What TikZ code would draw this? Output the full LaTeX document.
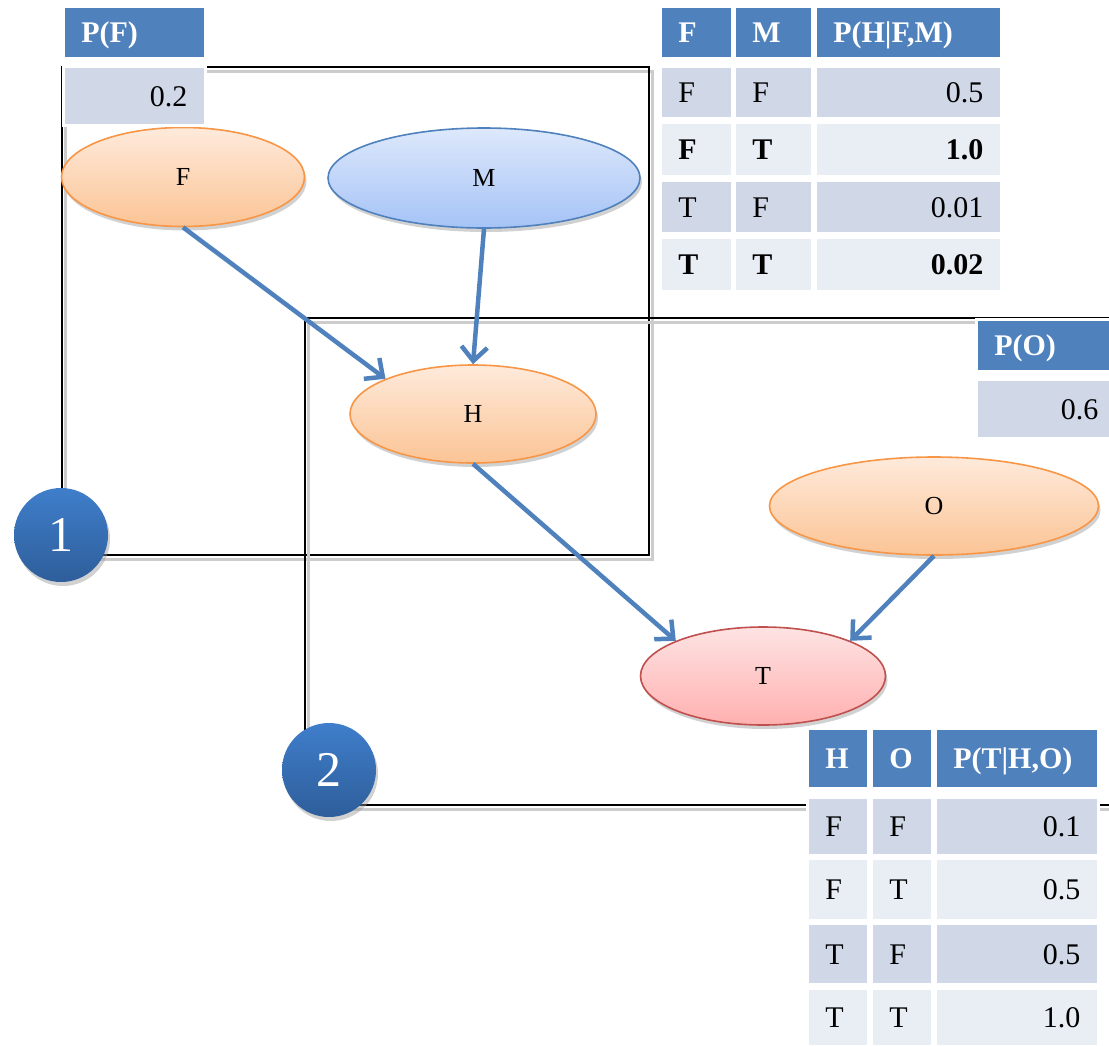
\documentclass[tikz,border=0pt]{standalone}
\usepackage{fontspec}
\setmainfont{Liberation Serif}
\usetikzlibrary{arrows.meta,shapes.geometric,shadows}
\definecolor{hdrblue}{HTML}{4F81BD}
\definecolor{rowdark}{HTML}{D0D8E8}
\definecolor{rowlight}{HTML}{E9EDF4}
\definecolor{orgline}{HTML}{F79646}
\definecolor{orgtop}{HTML}{FEEADB}
\definecolor{orgbot}{HTML}{FBC495}
\definecolor{blutop}{HTML}{DDE8FB}
\definecolor{blubot}{HTML}{A5C3F6}
\definecolor{redline}{HTML}{C0504D}
\definecolor{redtop}{HTML}{FEE3E3}
\definecolor{redbot}{HTML}{FFB0B0}
\definecolor{numtop}{HTML}{3F7ECB}
\definecolor{numbot}{HTML}{2E5E9A}
\begin{document}
\begin{tikzpicture}[x=1pt,y=-1pt,
	var/.style={ellipse,draw,line width=1.6pt,inner sep=0pt,font=\fontsize{26}{30}\selectfont,
		drop shadow={shadow xshift=2pt,shadow yshift=-4pt,fill=black!40,opacity=.45}},
	orgvar/.style={var,draw=orgline,top color=orgtop,bottom color=orgbot},
	bluvar/.style={var,draw=hdrblue,top color=blutop,bottom color=blubot},
	redvar/.style={var,draw=redline,top color=redtop,bottom color=redbot},
	edge/.style={draw=hdrblue,line width=4.5pt,-{Straight Barb[length=14pt,width=26pt]}},
	frame/.style={draw=black,line width=1.8pt},
	frameshadow/.style={draw=black!20,line width=3pt},
	cell/.style={anchor=north west,inner xsep=18pt,inner ysep=0pt,text height=21pt,text depth=0pt,
		draw=white,line width=2.5pt,font=\fontsize{30}{36}\selectfont},
	hdr/.style={cell,fill=hdrblue,text=white,align=left,font=\fontsize{30}{36}\selectfont\bfseries},
	lcell/.style={cell,align=left},
	rcell/.style={cell,align=right},
	badge/.style={circle,minimum size=94pt,inner sep=0pt,top color=numtop,bottom color=numbot,
		text=white,font=\fontsize{50}{56}\selectfont,
		drop shadow={shadow xshift=2pt,shadow yshift=-4pt,fill=black!40,opacity=.45}}]
	\useasboundingbox (0,0) rectangle (1109,1045);
	% frames 1 and 2
	\draw[frameshadow] (65,71) rectangle (652,559);
	\draw[frame] (62,67) rectangle (649,555);
	\draw[frameshadow] (1120,322) -| (308,809) -- (1120,809);
	\draw[frame] (1120,318) -| (305,805) -- (1120,805);
	% variables
	\node[orgvar,minimum width=243pt,minimum height=99pt] (F) at (183,177) {F};
	\node[bluvar,minimum width=312pt,minimum height=100pt] (M) at (484,178) {M};
	\node[orgvar,minimum width=246pt,minimum height=98pt] (H) at (473,414) {H};
	\node[orgvar,minimum width=329pt,minimum height=98pt] (O) at (934,506) {O};
	\node[redvar,minimum width=245pt,minimum height=98pt] (T) at (763,676) {T};
	% arcs
	\draw[edge] (F.south) -- (H.north west);
	\draw[edge] (M.south) -- (H.north);
	\draw[edge] (H.south) -- (T.north west);
	\draw[edge] (O.south) -- (T.north east);
	% table P(F)
	\node[hdr,text width=106pt,minimum height=52pt] (pf-h) at (62,5) {P(F)};
	\node[rcell,fill=rowdark,text width=106pt,minimum height=59pt] (pf-v) at (62,65) {0.2};
	% table P(O)
	\node[hdr,text width=104pt,minimum height=52pt] (po-h) at (975,318) {P(O)};
	\node[rcell,fill=rowdark,text width=104pt,minimum height=59pt] (po-v) at (975,378) {0.6};
	% table P(H|F,M)
	\node[hdr,text width=36pt,minimum height=52pt] (hfm-h1) at (659,5) {F};
	\node[hdr,text width=42pt,minimum height=52pt] (hfm-h2) at (733,5) {M};
	\node[hdr,text width=150pt,minimum height=52pt] (hfm-h3) at (814,5) {P(H|F,M)};
	\foreach \a/\b/\p/\y/\h/\tint [count=\i] in {F/F/0.5/65/52/rowdark,
		\textbf{F}/\textbf{T}/\textbf{1.0}/121/54/rowlight,
		T/F/0.01/179/53/rowdark,
		\textbf{T}/\textbf{T}/\textbf{0.02}/236/54/rowlight}{
		\node[lcell,fill=\tint,text width=36pt,minimum height=\h pt] (hfm-\i a) at (659,\y) {\a};
		\node[lcell,fill=\tint,text width=42pt,minimum height=\h pt] (hfm-\i b) at (733,\y) {\b};
		\node[rcell,fill=\tint,text width=150pt,minimum height=\h pt] (hfm-\i p) at (814,\y) {\p};
	}
	% table P(T|H,O)
	\node[hdr,text width=25pt,minimum height=60pt] (tho-h1) at (806,727) {H};
	\node[hdr,text width=25pt,minimum height=60pt] (tho-h2) at (870,727) {O};
	\node[hdr,text width=127pt,minimum height=60pt] (tho-h3) at (934,727) {P(T|H,O)};
	\foreach \a/\b/\p/\y/\h/\tint [count=\i] in {F/F/0.1/796/58/rowdark,
		F/T/0.5/857/62/rowlight,
		T/F/0.5/922/61/rowdark,
		T/T/1.0/987/58/rowlight}{
		\node[lcell,fill=\tint,text width=25pt,minimum height=\h pt] (tho-\i a) at (806,\y) {\a};
		\node[lcell,fill=\tint,text width=25pt,minimum height=\h pt] (tho-\i b) at (870,\y) {\b};
		\node[rcell,fill=\tint,text width=127pt,minimum height=\h pt] (tho-\i p) at (934,\y) {\p};
	}
	% numbered frames
	\node[badge] (n1) at (61,535) {1};
	\node[badge] (n2) at (329,770) {2};
\end{tikzpicture}
\end{document}
